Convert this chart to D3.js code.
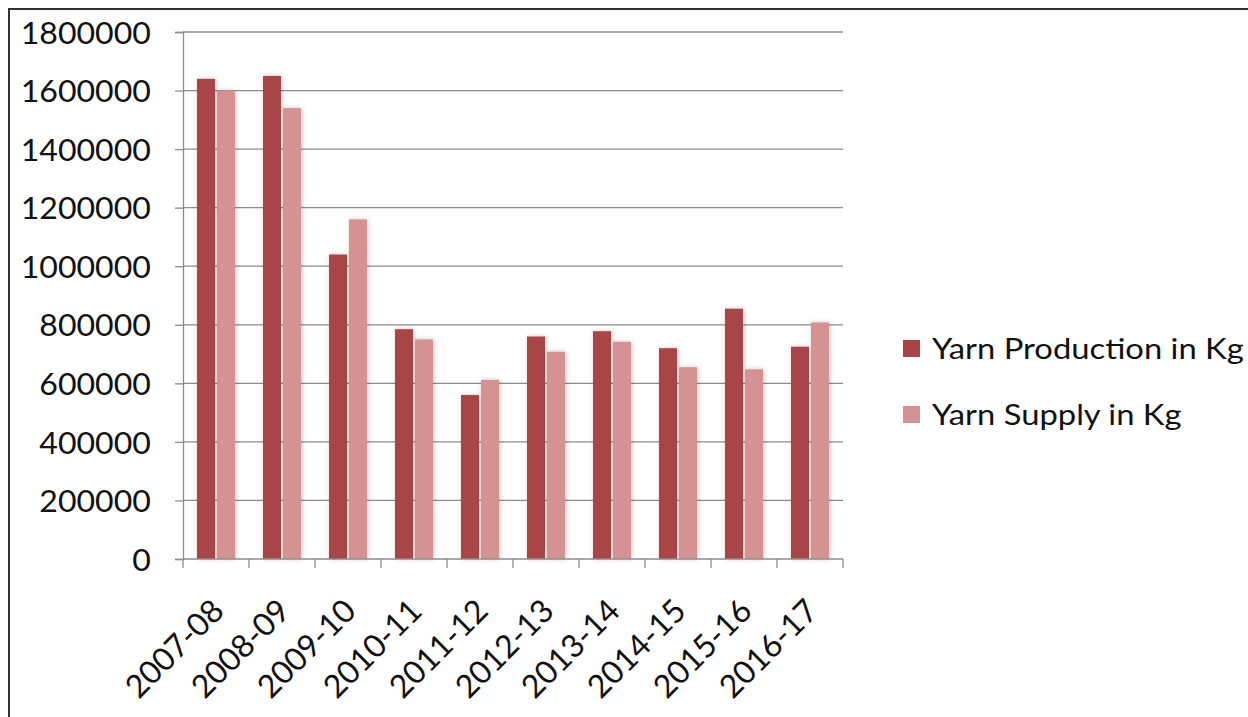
<!DOCTYPE html>
<html><head><meta charset="utf-8">
<script src="https://cdn.jsdelivr.net/npm/d3@7"></script>
<style>body{margin:0;background:#fff}svg{display:block}</style>
</head><body>
<svg id="c" width="1248" height="717"></svg>
<script>
const categories = ["2007-08","2008-09","2009-10","2010-11","2011-12","2012-13","2013-14","2014-15","2015-16","2016-17"];
const production = [1640000,1650000,1040000,785000,560000,760000,778000,720000,855000,725000];
const supply = [1600000,1540000,1160000,750000,612000,708000,742000,655000,648000,808000];
const seriesNames = ["Yarn Production in Kg","Yarn Supply in Kg"];
const yTicks = [0,200000,400000,600000,800000,1000000,1200000,1400000,1600000,1800000];
const colors = ["#A84446","#D59293"];

const svg = d3.select("#c");
const font = "Lato, 'Open Sans', sans-serif";
const defs = svg.append("defs");
const f = defs.append("filter").attr("id","sh").attr("x","-30%").attr("y","-10%").attr("width","160%").attr("height","120%");
f.append("feDropShadow").attr("dx",1).attr("dy",0).attr("stdDeviation",2.5).attr("flood-color","#000").attr("flood-opacity",0.22);

svg.append("rect").attr("x",9).attr("y",9).attr("width",1260).attr("height",720)
  .attr("fill","none").attr("stroke","#333").attr("stroke-width",2);

const L=183,R=843,T=32,B=559;
const x = d3.scaleBand().domain(categories).range([L,R]);
const y = d3.scaleLinear().domain([0,1800000]).range([B,T]);

const g = svg.append("g");
g.selectAll("line.grid").data(yTicks.slice(1)).join("line")
  .attr("x1",L).attr("x2",R).attr("y1",d=>y(d)).attr("y2",d=>y(d))
  .attr("stroke","#8c8c8c").attr("stroke-width",1.3);

const yAx = d3.axisLeft(y).tickValues(yTicks).tickSize(8).tickPadding(28).tickFormat(d3.format("d"));
const ya = svg.append("g").attr("transform",`translate(${L},0)`).call(yAx);
ya.selectAll("path,line").attr("stroke","#8c8c8c").attr("stroke-width",1.3);
ya.selectAll("text").attr("font-family",font).attr("font-size",31).attr("fill","#111").attr("dy","0.36em")
  .attr("transform","translate(-147,0) scale(1.035,1) translate(147,0)");

const inner = d3.scaleBand().domain([0,1]).range([14,52]).paddingInner(0.1);
const data = categories.map((c,i)=>({c,v:[production[i],supply[i]]}));
const grp = svg.append("g").selectAll("g").data(data).join("g").attr("transform",d=>`translate(${x(d.c)},0)`);
grp.selectAll("rect").data(d=>d.v.map((v,k)=>({v,k}))).join("rect")
  .attr("x",d=>inner(d.k)).attr("width",inner.bandwidth())
  .attr("y",d=>y(d.v)).attr("height",d=>B-y(d.v))
  .attr("fill",d=>colors[d.k]).attr("filter","url(#sh)");

const xa = svg.append("g").attr("transform",`translate(0,${B})`);
xa.append("line").attr("x1",L).attr("x2",R).attr("stroke","#8c8c8c").attr("stroke-width",1.3);
xa.selectAll("line.t").data(d3.range(categories.length+1)).join("line")
  .attr("x1",i=>L+i*x.step()).attr("x2",i=>L+i*x.step()).attr("y1",0).attr("y2",9)
  .attr("stroke","#8c8c8c").attr("stroke-width",1.3);
xa.selectAll("text").data(categories).join("text")
  .attr("transform",d=>`translate(${x(d)+x.bandwidth()/2-6},${38}) rotate(-45)`)
  .attr("text-anchor","end").attr("dy","0.7em")
  .attr("font-family",font).attr("font-size",32).attr("fill","#111").text(d=>d);

const lg = svg.append("g").selectAll("g").data(seriesNames).join("g")
  .attr("transform",(d,i)=>`translate(903,${340+i*66})`);
lg.append("rect").attr("width",17).attr("height",17).attr("fill",(d,i)=>colors[i]);
lg.append("text").attr("transform","translate(29,19) scale(1.13,1)").attr("font-family",font).attr("font-size",29).attr("fill","#111").text(d=>d);
</script>
</body></html>
